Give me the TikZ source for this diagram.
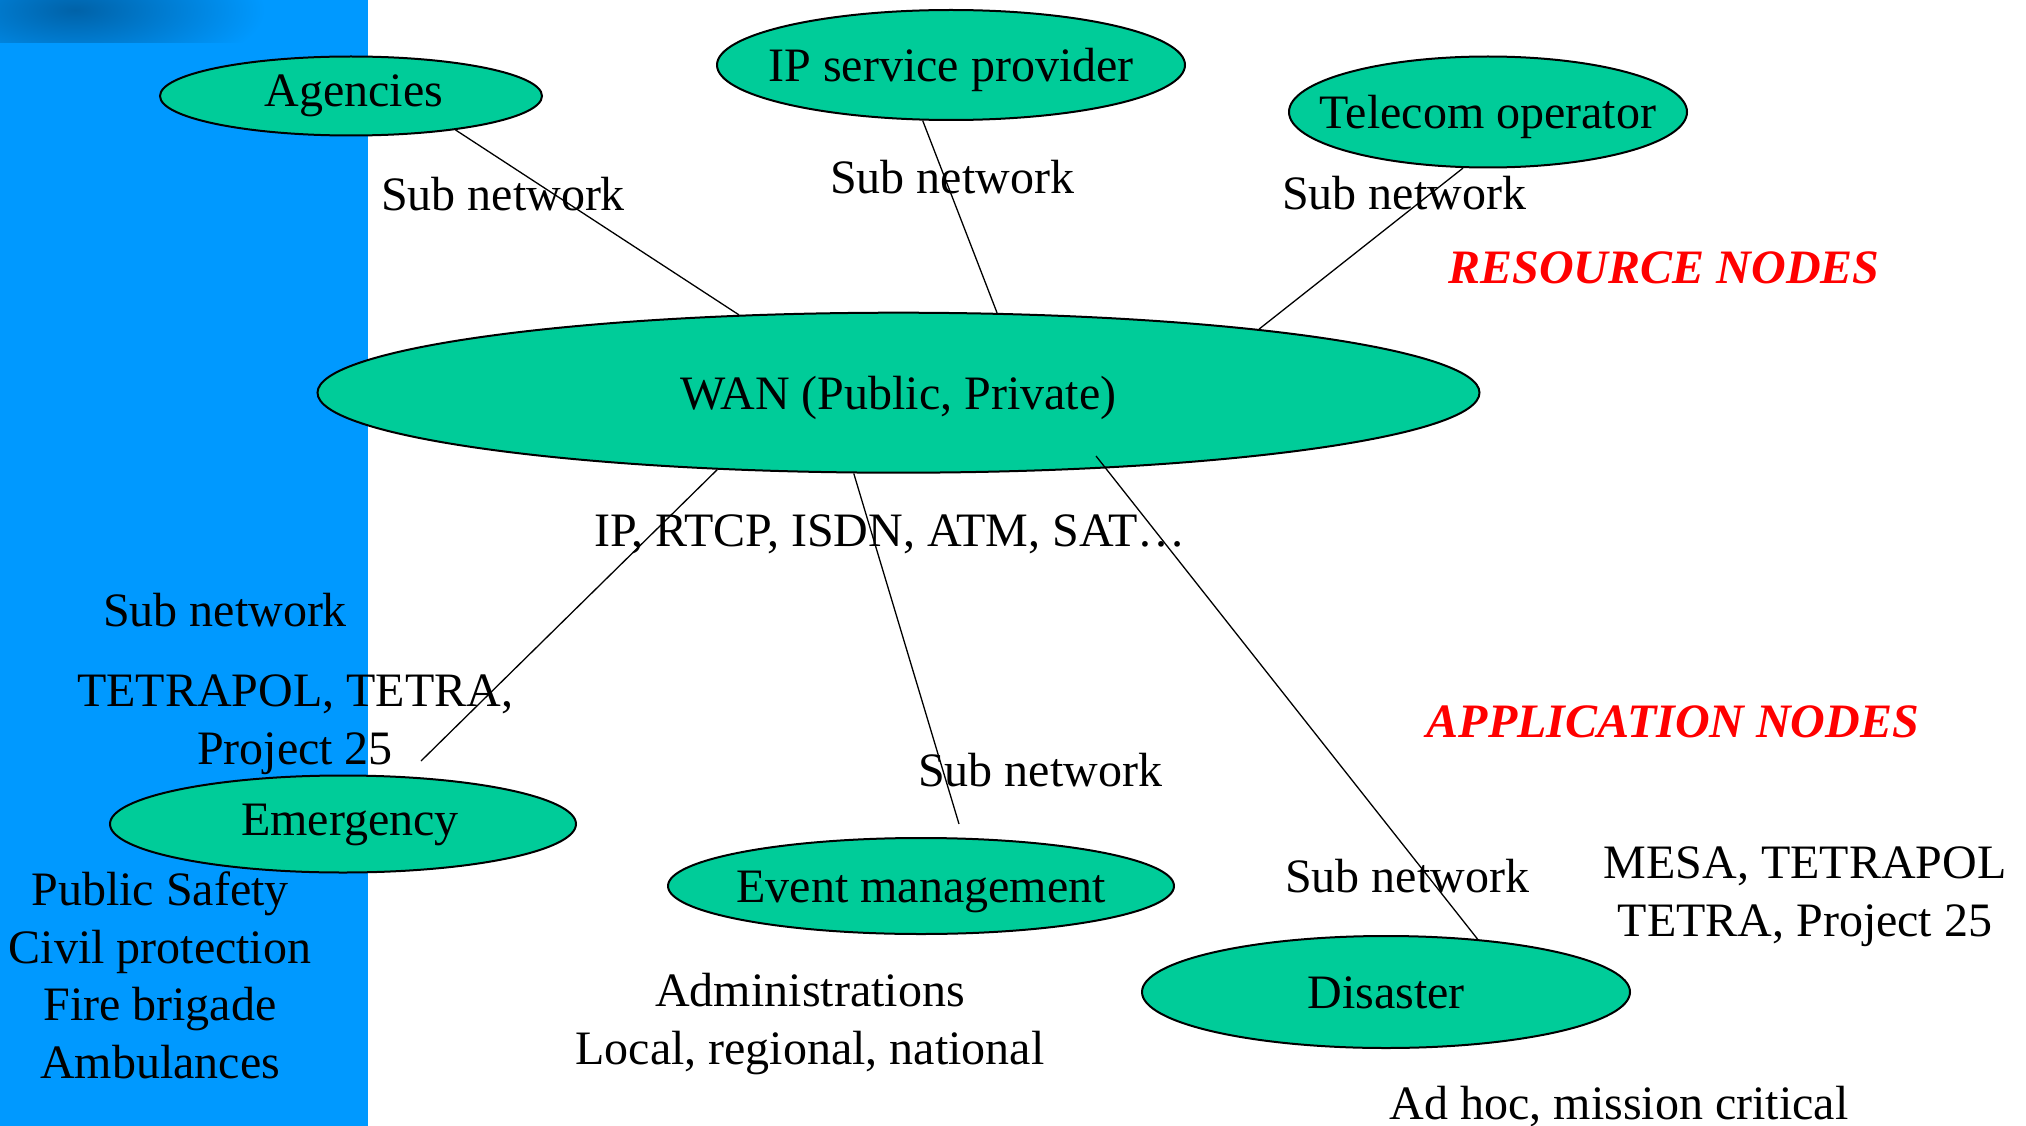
\documentclass[tikz,border=0pt]{standalone}
\usepackage{fontspec}
\setmainfont{Liberation Serif}
\usetikzlibrary{shapes.geometric}
\definecolor{bgblue}{HTML}{0099FF}
\definecolor{nodegreen}{HTML}{00CC99}
\definecolor{darkblob}{HTML}{0062A8}
\begin{document}
\begin{tikzpicture}[x=1pt,y=-1pt,
  big/.style={font=\fontsize{48}{57.5}\selectfont},
  oval/.style={ellipse, draw=black, line width=2pt, fill=nodegreen,
    inner xsep=-80pt, inner ysep=0pt,
    text height=33pt, text depth=0pt, big},
  lbl/.style={big, anchor=base, inner sep=0pt, align=center},
  hdr/.style={lbl, text=red, font=\fontsize{48}{57.5}\selectfont\bfseries\itshape},
  link/.style={line width=1.3pt}]
\useasboundingbox (0,0) rectangle (2026,1126);
\fill[white] (0,0) rectangle (2026,1126);
\fill[bgblue] (0,0) rectangle (368,1126);
\begin{scope}
  \clip (0,0) rectangle (368,43);
  \shade[inner color=darkblob, outer color=bgblue] (75,10) ellipse [x radius=190, y radius=70];
\end{scope}

% nodes
\node[oval, minimum width=382pt, minimum height=79pt, text depth=12pt] (ag) at (351,96) {\hspace*{6pt}Agencies};
\node[oval, minimum width=468pt, minimum height=110pt] (ip) at (951,65) {IP service provider};
\node[oval, minimum width=398pt, minimum height=111pt] (tel) at (1488,112) {Telecom operator};
\node[oval, minimum width=1162pt, minimum height=160pt] (wan) at (898.5,392.7) {WAN (Public, Private)};
\node[oval, minimum width=466pt, minimum height=97pt, text depth=10pt] (em) at (343,824) {\hspace*{14pt}Emergency};
\node[oval, minimum width=506pt, minimum height=96pt, text depth=-3pt] (ev) at (921,886) {Event management};
\node[oval, minimum width=488pt, minimum height=112pt] (dis) at (1386,992) {Disaster};

% connectors
\coordinate (emEnd) at (421,761);
\coordinate (evEnd) at (959,824);
\coordinate (disStart) at (1096,456);
\draw[link] (ag.-18.6) -- (wan.154.2);
\draw[link] (ip.-117) -- (wan.39.8);
\draw[link] (tel.-114) -- (wan.10.4);
\draw[link] (wan.203.4) -- (emEnd);
\draw[link] (wan.-119.1) -- (evEnd);
\draw[link] (disStart) -- (dis.30.6);

% labels (multi-line labels are placed by the baseline of their last line)
\node[lbl] (s1) at (503,211) {Sub network};
\node[lbl] (s2) at (952,194) {Sub network};
\node[lbl] (s3) at (1404,210) {Sub network};
\node[hdr] (res) at (1664,283) {RESOURCE NODES};
\node[lbl] (proto) at (890,546) {IP, RTCP, ISDN, ATM, SAT\dots};
\node[lbl] (s4) at (225,626) {Sub network};
\node[lbl] (tetra) at (295,764) {TETRAPOL, TETRA,\\Project 25};
\node[hdr] (app) at (1673,737) {APPLICATION NODES};
\node[lbl] (s5) at (1040,786) {Sub network};
\node[lbl] (s6) at (1407,892) {Sub network};
\node[lbl] (mesa) at (1805,936) {MESA, TETRAPOL\\TETRA, Project 25};
\node[lbl] (pub) at (160,1078) {Public Safety\\Civil protection\\Fire brigade\\Ambulances};
\node[lbl] (adm) at (810,1064) {Administrations\\Local, regional, national};
\node[lbl] (adhoc) at (1619,1119) {Ad hoc, mission critical};
\end{tikzpicture}
\end{document}
